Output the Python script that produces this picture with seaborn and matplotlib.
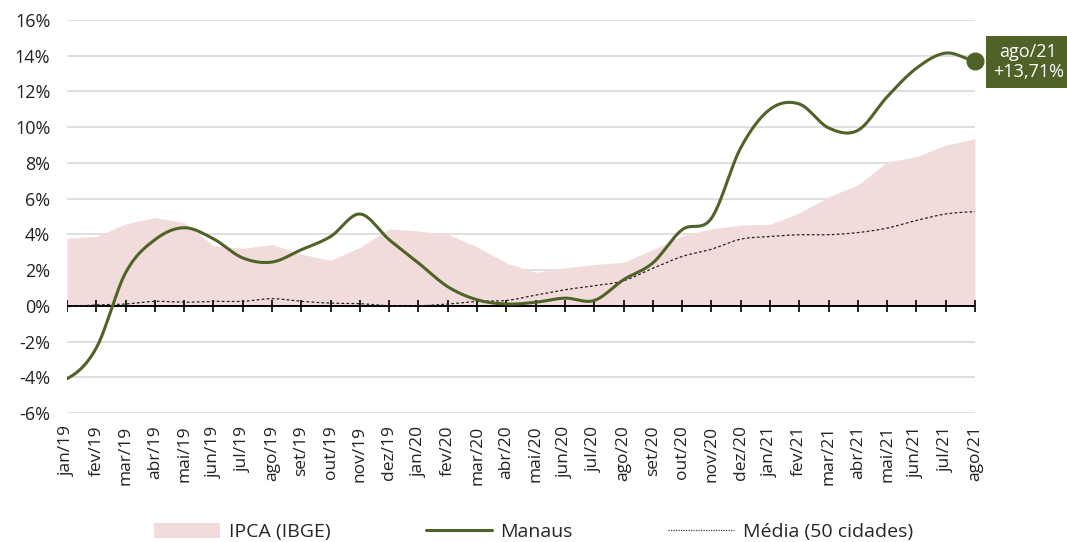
import numpy as np
import pandas as pd
import matplotlib
matplotlib.use("Agg")
import matplotlib.pyplot as plt
from matplotlib.patches import Patch
from matplotlib.lines import Line2D
import seaborn as sns

# Monthly labels (accumulated 12-month inflation)
meses = ["jan/19", "fev/19", "mar/19", "abr/19", "mai/19", "jun/19", "jul/19", "ago/19",
         "set/19", "out/19", "nov/19", "dez/19", "jan/20", "fev/20", "mar/20", "abr/20",
         "mai/20", "jun/20", "jul/20", "ago/20", "set/20", "out/20", "nov/20", "dez/20",
         "jan/21", "fev/21", "mar/21", "abr/21", "mai/21", "jun/21", "jul/21", "ago/21"]

ipca = [3.78, 3.89, 4.58, 4.94, 4.66, 3.37, 3.22, 3.43, 2.89, 2.54, 3.27, 4.31,
        4.19, 4.01, 3.30, 2.40, 1.88, 2.13, 2.31, 2.44, 3.14, 3.92, 4.31, 4.52,
        4.56, 5.20, 6.10, 6.76, 8.06, 8.35, 8.99, 9.36]

manaus = [-4.08, -2.36, 1.85, 3.70, 4.37, 3.75, 2.68, 2.45, 3.14, 3.88, 5.14, 3.70,
          2.40, 1.07, 0.34, 0.10, 0.20, 0.43, 0.30, 1.46, 2.40, 4.26, 4.90, 8.84,
          11.00, 11.30, 9.96, 9.82, 11.70, 13.30, 14.15, 13.71]

media = [-0.05, 0.05, 0.10, 0.25, 0.20, 0.25, 0.25, 0.40, 0.25, 0.15, 0.12, 0.00,
         0.00, 0.10, 0.25, 0.30, 0.60, 0.90, 1.12, 1.40, 2.10, 2.76, 3.17, 3.73,
         3.88, 3.98, 3.98, 4.10, 4.35, 4.78, 5.14, 5.27]

VERDE = "#4F6228"
ROSA = "#F2DCDB"
GRADE = "#D9D9D9"


def suavizar(y, n=24):
    """Catmull-Rom curve through the monthly points."""
    y = np.asarray(y, dtype=float)
    xs, ys = [], []
    for i in range(len(y) - 1):
        p0 = y[i - 1] if i > 0 else y[i]
        p1, p2 = y[i], y[i + 1]
        p3 = y[i + 2] if i + 2 < len(y) else y[i + 1]
        m1 = (p2 - p0) / 2.0
        m2 = (p3 - p1) / 2.0
        t = np.linspace(0, 1, n, endpoint=False)
        h00 = 2 * t**3 - 3 * t**2 + 1
        h10 = t**3 - 2 * t**2 + t
        h01 = -2 * t**3 + 3 * t**2
        h11 = t**3 - t**2
        xs.append(i + t)
        ys.append(h00 * p1 + h10 * m1 + h01 * p2 + h11 * m2)
    xs.append(np.array([len(y) - 1.0]))
    ys.append(np.array([y[-1]]))
    return np.concatenate(xs), np.concatenate(ys)


sns.set_theme(style="white")
plt.rcParams["font.family"] = ["Open Sans", "DejaVu Sans"]

fig = plt.figure(figsize=(10.67, 5.42), dpi=100)
ax = fig.add_axes([67 / 1067, 1 - 413 / 542, (975 - 67) / 1067, (413 - 20) / 542])

x = np.arange(len(meses))
df = pd.DataFrame({"mes": x, "ipca": ipca, "manaus": manaus, "media": media})

# IPCA area
ax.fill_between(df["mes"], 0, df["ipca"], color=ROSA, linewidth=0, zorder=1)

# Smoothed lines
xm, ym = suavizar(manaus)
xd, yd = suavizar(media)
sns.lineplot(x=xd, y=yd, ax=ax, color="#222222", linewidth=0.9,
             linestyle=(0, (2.2, 1.8)), zorder=3, sort=False)
sns.lineplot(x=xm, y=ym, ax=ax, color=VERDE, linewidth=2.2, zorder=4, sort=False)

# Zero line with month ticks
ax.axhline(0, color="black", linewidth=1.4, zorder=2)
ax.plot(x, np.zeros_like(x, dtype=float), linestyle="none", marker="|",
        markersize=9, markeredgewidth=1.2, color="black", zorder=2)

# Final point and label
ax.plot([x[-1]], [manaus[-1]], marker="o", markersize=12, color=VERDE,
        clip_on=False, zorder=5)
fig.text((990 + 1067) / 2 / 1067, 1 - 62 / 542,
         f"{meses[-1]}\n+{manaus[-1]:.2f}%".replace(".", ","),
         ha="center", va="center", color="white", fontsize=13, linespacing=1.15,
         bbox=dict(boxstyle="square,pad=0.4", facecolor=VERDE, edgecolor="none"))

ax.set_xlim(0, len(meses) - 1)
ax.set_ylim(-6, 16)
ax.set_yticks(np.arange(-6, 17, 2))
ax.set_yticklabels([f"{v}%" for v in range(-6, 17, 2)])
ax.set_xticks(x)
ax.set_xticklabels(meses, rotation=90, va="top", ha="center")
ax.tick_params(axis="x", length=0, pad=9, labelsize=12.5, colors="#222222")
ax.tick_params(axis="y", length=0, pad=12, labelsize=13, colors="#222222")
ax.yaxis.grid(True, color=GRADE, linewidth=1.2)
ax.xaxis.grid(False)
ax.set_xlabel("")
ax.set_ylabel("")
for s in ax.spines.values():
    s.set_visible(False)

handles = [
    Patch(facecolor=ROSA, edgecolor="none", label="IPCA (IBGE)"),
    Line2D([], [], color=VERDE, linewidth=2.2, label="Manaus"),
    Line2D([], [], color="#444444", linewidth=0.9, linestyle=(0, (1, 1)),
           label="Média (50 cidades)"),
]
fig.legend(handles=handles, loc="center", bbox_to_anchor=(0.5, 1 - 532 / 542),
           ncol=3, frameon=False, fontsize=14, handlelength=3.4, handleheight=0.8,
           columnspacing=4.9, handletextpad=0.45)

fig.savefig("out.png", dpi=100)
